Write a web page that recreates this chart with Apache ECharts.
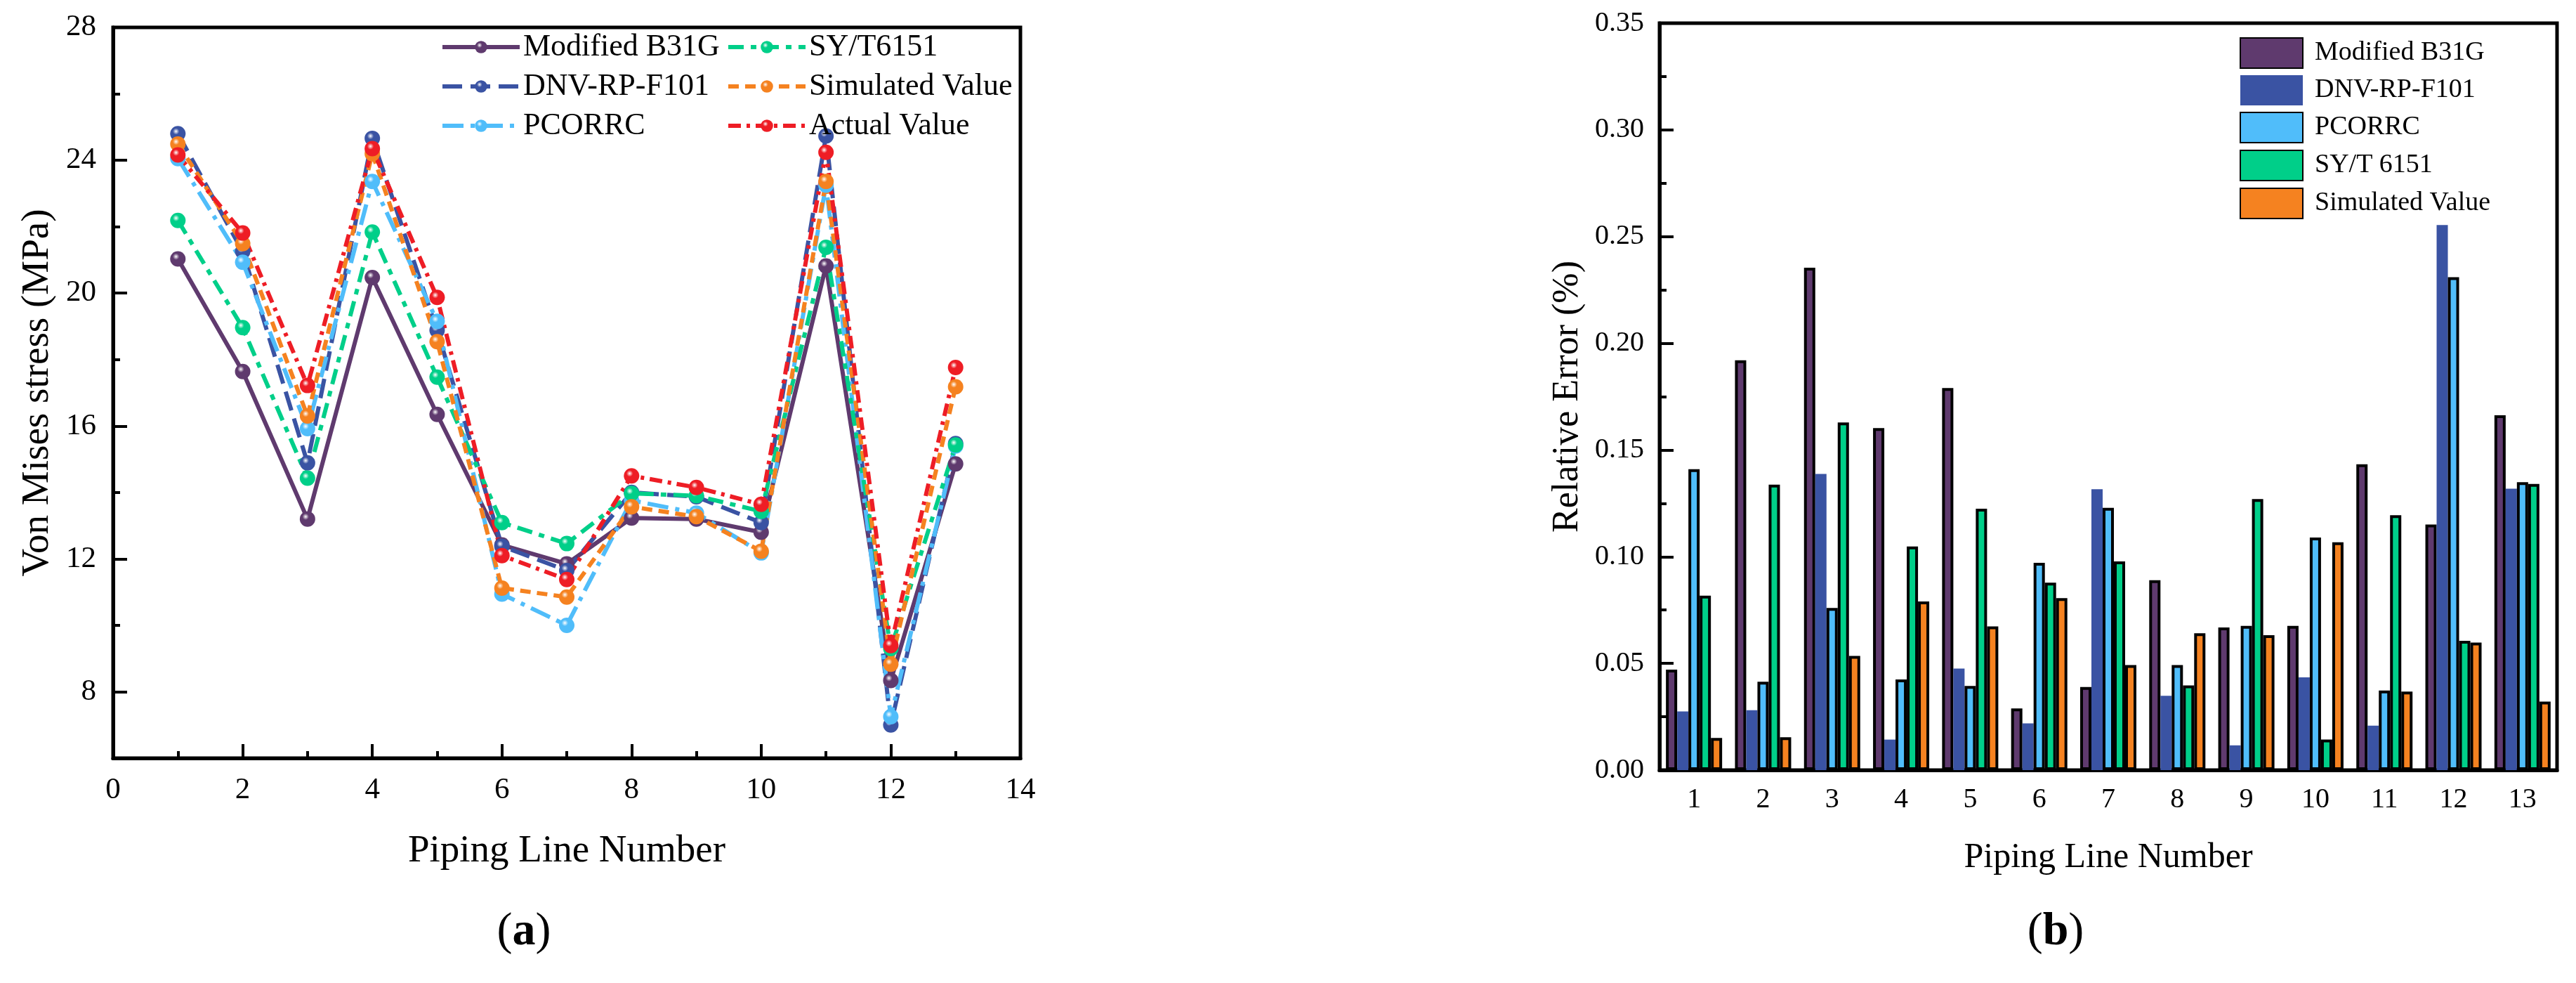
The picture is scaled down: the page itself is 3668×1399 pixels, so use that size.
<!DOCTYPE html>
<html>
<head>
<meta charset="utf-8">
<script src="https://cdn.jsdelivr.net/npm/echarts@6/dist/echarts.min.js"></script>
<style>
  html, body { margin: 0; padding: 0; background: #fff; }
  #left, #right { position: absolute; top: 0; width: 1834px; height: 1399px; }
  #left { left: 0; }
  #right { left: 1834px; }
</style>
</head>
<body>
<div id="left"></div>
<div id="right"></div>
<script>
const FONT = '"Liberation Serif", "Times New Roman", serif';

// (a) Von Mises stress per piping line
const lineNumbers = [1, 2, 3, 4, 5, 6, 7, 8, 9, 10, 11, 12, 13];
const stressB31G   = [21.03, 17.64, 13.20, 20.47, 16.35, 12.42, 11.85, 13.23, 13.20, 12.80, 20.82, 8.34, 14.86];
const stressDNV    = [24.80, 21.25, 14.89, 24.66, 18.88, 12.38, 11.65, 14.00, 13.87, 13.09, 24.73, 7.00, 15.47];
const stressPCORRC = [24.05, 20.93, 15.92, 23.36, 19.15, 10.94, 10.00, 13.76, 13.38, 12.18, 23.25, 7.25, 15.40];
const stressSY     = [22.19, 18.96, 14.43, 21.84, 17.47, 13.09, 12.46, 13.97, 13.90, 13.43, 21.38, 9.30, 15.43];
const stressSim    = [24.49, 21.49, 16.30, 24.20, 18.54, 11.12, 10.85, 13.57, 13.27, 12.23, 23.36, 8.83, 17.18];
const stressActual = [24.16, 21.81, 17.22, 24.35, 19.87, 12.10, 11.38, 14.50, 14.15, 13.64, 24.24, 9.39, 17.76];
const yMajorTicks = [8, 12, 16, 20, 24, 28];

// (b) relative error per piping line
const pipeCategories = ['1', '2', '3', '4', '5', '6', '7', '8', '9', '10', '11', '12', '13'];
const errB31G   = [0.0471, 0.192, 0.2354, 0.1603, 0.179, 0.0289, 0.0389, 0.089, 0.0668, 0.0676, 0.1433, 0.1151, 0.1663];
const errDNV    = [0.0275, 0.0281, 0.1388, 0.0143, 0.0476, 0.0219, 0.1316, 0.0348, 0.0116, 0.0435, 0.0208, 0.2554, 0.1319];
const errPCORRC = [0.141, 0.0414, 0.076, 0.0425, 0.0394, 0.0971, 0.1229, 0.0492, 0.0676, 0.109, 0.0373, 0.231, 0.1349];
const errSY     = [0.0817, 0.1338, 0.1629, 0.1048, 0.1225, 0.0878, 0.0978, 0.0397, 0.127, 0.0143, 0.1194, 0.0606, 0.1341];
const errSim    = [0.0151, 0.0154, 0.0535, 0.079, 0.0673, 0.0806, 0.0492, 0.0641, 0.0632, 0.1068, 0.0368, 0.0598, 0.0321];

const C = {
  purple: '#5f3a6e',
  blue: '#3a53a3',
  sky: '#50bdfa',
  green: '#00cf89',
  orange: '#f58220',
  red: '#ee1d25'
};

const ball = (c) => ({
  type: 'radial', x: 0.38, y: 0.35, r: 0.7,
  colorStops: [
    { offset: 0, color: '#ffffff' },
    { offset: 0.3, color: c },
    { offset: 1, color: c }
  ]
});

const pairs = (ys) => lineNumbers.map((x, i) => [x, ys[i]]);

const lineSeries = (name, ys, color, dash) => ({
  name: name,
  type: 'line',
  data: pairs(ys),
  symbol: 'circle',
  symbolSize: 22,
  lineStyle: { width: 6, color: color, type: dash },
  itemStyle: { color: ball(color) }
});

const axisBlack = { color: '#000', width: 5 };
const tickBlack = { color: '#000', width: 4 };

const legendBase = {
  orient: 'vertical', top: 40,
  itemWidth: 110, itemHeight: 22, itemGap: 12,
  lineStyle: { width: 6 },
  textStyle: { fontFamily: FONT, fontSize: 44, lineHeight: 44, color: '#000' }
};

const leftChart = echarts.init(document.getElementById('left'));
leftChart.setOption({
  animation: false,
  backgroundColor: '#fff',
  textStyle: { fontFamily: FONT },
  grid: {
    left: 161, top: 39, width: 1292, height: 1040,
    show: true, borderColor: '#000', borderWidth: 5
  },
  legend: [
    Object.assign({}, legendBase, { data: ['Modified B31G', 'DNV-RP-F101', 'PCORRC'], left: 622 }),
    Object.assign({}, legendBase, { data: ['SY/T6151', 'Simulated Value', 'Actual Value'], left: 1029 })
  ],
  xAxis: {
    type: 'value', min: 0, max: 14, interval: 2,
    name: 'Piping Line Number', nameLocation: 'middle', nameGap: 105,
    nameTextStyle: { fontFamily: FONT, fontSize: 55, color: '#000' },
    axisLine: { show: true, lineStyle: axisBlack },
    axisTick: { show: true, inside: true, length: 20, lineStyle: tickBlack },
    minorTick: { show: true, splitNumber: 2, length: 10, lineStyle: tickBlack },
    axisLabel: { fontFamily: FONT, fontSize: 43, color: '#000', margin: 24 },
    splitLine: { show: false }
  },
  yAxis: [
    {
      type: 'value', min: 6, max: 28, interval: 2,
      name: 'Von Mises stress (MPa)', nameLocation: 'middle', nameGap: 80,
      nameTextStyle: { fontFamily: FONT, fontSize: 55, color: '#000' },
      axisLine: { show: true, lineStyle: axisBlack },
      axisTick: { show: true, inside: true, length: 10, lineStyle: tickBlack },
      axisLabel: {
        fontFamily: FONT, fontSize: 43, color: '#000', margin: 24,
        formatter: (v) => (v % 4 === 0 ? String(v) : '')
      },
      splitLine: { show: false }
    },
    {
      type: 'value', min: 6, max: 28, interval: 2, position: 'left',
      axisLine: { show: false },
      axisTick: { show: true, inside: true, length: 20, lineStyle: tickBlack, customValues: yMajorTicks },
      axisLabel: { show: false },
      splitLine: { show: false }
    }
  ],
  graphic: [{
    type: 'text', x: 746, y: 1327,
    style: {
      text: '({b|a})', fontFamily: FONT, fontSize: 66, fill: '#000',
      align: 'center', verticalAlign: 'middle',
      rich: { b: { fontFamily: FONT, fontSize: 66, fontWeight: 'bold' } }
    }
  }],
  series: [
    lineSeries('Modified B31G', stressB31G, C.purple, 'solid'),
    lineSeries('DNV-RP-F101', stressDNV, C.blue, [28, 12]),
    lineSeries('PCORRC', stressPCORRC, C.sky, [30, 10, 6, 10]),
    lineSeries('SY/T6151', stressSY, C.green, [22, 10, 8, 10]),
    lineSeries('Simulated Value', stressSim, C.orange, [15, 9]),
    lineSeries('Actual Value', stressActual, C.red, [18, 8, 5, 8])
  ]
});

const barSeries = (name, vals, color, border) => ({
  name: name,
  type: 'bar',
  data: vals,
  barWidth: 16,
  barGap: '0%',
  itemStyle: { color: color, borderColor: '#000', borderWidth: border ? 4 : 0 }
});

const rightChart = echarts.init(document.getElementById('right'));
rightChart.setOption({
  animation: false,
  backgroundColor: '#fff',
  textStyle: { fontFamily: FONT },
  grid: {
    left: 529, top: 33, width: 1278, height: 1063,
    show: true, borderColor: '#000', borderWidth: 5
  },
  legend: {
    orient: 'vertical', left: 1350, top: 48,
    itemWidth: 89, itemHeight: 43, itemGap: 9,
    icon: 'rect',
    textStyle: { fontFamily: FONT, fontSize: 38, lineHeight: 40, color: '#000', padding: [0, 0, 0, 12] }
  },
  xAxis: {
    type: 'category', data: pipeCategories,
    name: 'Piping Line Number', nameLocation: 'middle', nameGap: 100,
    nameTextStyle: { fontFamily: FONT, fontSize: 50, color: '#000' },
    axisLine: { show: true, lineStyle: axisBlack },
    axisTick: { show: false },
    axisLabel: { fontFamily: FONT, fontSize: 40, color: '#000', margin: 22 }
  },
  yAxis: {
    type: 'value', min: 0, max: 0.35, interval: 0.05,
    name: 'Relative Error (%)', nameLocation: 'middle', nameGap: 105,
    nameTextStyle: { fontFamily: FONT, fontSize: 52, color: '#000' },
    axisLine: { show: true, lineStyle: axisBlack },
    axisTick: { show: true, inside: true, length: 20, lineStyle: tickBlack },
    minorTick: { show: true, splitNumber: 2, length: 10, lineStyle: tickBlack },
    axisLabel: {
      fontFamily: FONT, fontSize: 40, color: '#000', margin: 22,
      formatter: (v) => v.toFixed(2)
    },
    splitLine: { show: false }
  },
  graphic: [{
    type: 'text', x: 1093, y: 1327,
    style: {
      text: '({b|b})', fontFamily: FONT, fontSize: 66, fill: '#000',
      align: 'center', verticalAlign: 'middle',
      rich: { b: { fontFamily: FONT, fontSize: 66, fontWeight: 'bold' } }
    }
  }],
  series: [
    barSeries('Modified B31G', errB31G, C.purple, true),
    barSeries('DNV-RP-F101', errDNV, C.blue, false),
    barSeries('PCORRC', errPCORRC, C.sky, true),
    barSeries('SY/T 6151', errSY, C.green, true),
    barSeries('Simulated Value', errSim, C.orange, true)
  ]
});
</script>
</body>
</html>
